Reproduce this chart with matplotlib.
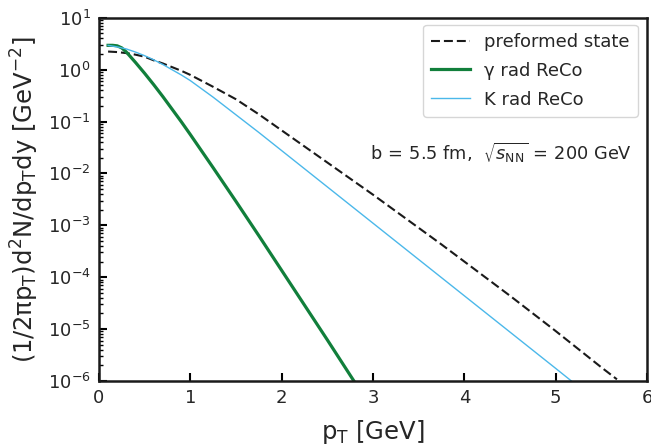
import matplotlib
matplotlib.use("Agg")
import matplotlib.pyplot as plt
import numpy as np
from matplotlib.ticker import LogLocator, NullFormatter

# preformed state (log10 values)
pre_pt = [0.1, 0.2, 0.3, 0.4, 0.5, 0.6, 0.7, 0.8, 0.9, 1.0, 1.25, 1.5, 1.75, 2.0, 2.25, 2.5,
          2.75, 3.0, 3.25, 3.5, 3.75, 4.0, 4.25, 4.5, 4.75, 5.0, 5.25, 5.5, 5.67]
pre_log = [0.35, 0.34, 0.32, 0.29, 0.25, 0.18, 0.12, 0.05, -0.02, -0.10, -0.33, -0.57, -0.86,
           -1.17, -1.48, -1.79, -2.10, -2.41, -2.73, -3.05, -3.37, -3.70, -4.03, -4.36, -4.70,
           -5.04, -5.39, -5.74, -5.97]

# gamma rad ReCo
gam_pt = [0.1, 0.15, 0.2, 0.25, 0.3, 0.4, 0.5, 0.6, 0.7, 0.8, 0.9, 1.0, 1.25, 1.5, 1.75,
          2.0, 2.25, 2.5, 2.79]
gam_log = [0.47, 0.47, 0.46, 0.42, 0.34, 0.14, -0.07, -0.29, -0.52, -0.76, -1.00, -1.25,
           -1.89, -2.54, -3.20, -3.87, -4.54, -5.21, -6.0]

# K rad ReCo
k_pt = [0.1, 0.2, 0.3, 0.4, 0.5, 0.6, 0.7, 0.8, 0.9, 1.0, 1.25, 1.5, 1.75, 2.0, 2.25, 2.5,
        2.75, 3.0, 3.25, 3.5, 3.75, 4.0, 4.25, 4.5, 4.75, 5.0, 5.17]
k_log = [0.47, 0.44, 0.40, 0.34, 0.27, 0.19, 0.10, 0.00, -0.10, -0.21, -0.53, -0.87, -1.21,
         -1.56, -1.91, -2.26, -2.61, -2.96, -3.31, -3.66, -4.01, -4.36, -4.71, -5.06, -5.41,
         -5.76, -6.0]

labels = ["preformed state", "\u03b3 rad ReCo", "K rad ReCo"]
xticks = [0, 1, 2, 3, 4, 5, 6]

plt.rcParams['font.family'] = ['DejaVu Sans']
plt.rcParams['mathtext.fontset'] = 'dejavusans'

fig = plt.figure(figsize=(6.51, 4.46), dpi=100)
ax = fig.add_axes([0.152, 0.146, 0.842, 0.814])

txtc = '#262626'
ax.plot(pre_pt, 10 ** np.array(pre_log), ls=(0, (4.3, 1.9)), color='#1a1a1a', lw=1.5, label=labels[0])
ax.plot(gam_pt, 10 ** np.array(gam_log), color='#117f3b', lw=2.3, label=labels[1])
ax.plot(k_pt, 10 ** np.array(k_log), color='#4bb8ea', lw=1.0, label=labels[2])

ax.set_yscale('log')
ax.set_xlim(0, 6)
ax.set_ylim(1e-6, 1e1)
ax.set_xticks(xticks)
ax.yaxis.set_major_locator(LogLocator(base=10, numticks=20))
ax.yaxis.set_minor_locator(LogLocator(base=10, subs=np.arange(2, 10), numticks=20))
ax.yaxis.set_minor_formatter(NullFormatter())

for s in ax.spines.values():
    s.set_linewidth(1.8)
    s.set_color('#1a1a1a')
ax.tick_params(which='major', direction='in', length=6, width=1.5, labelsize=13,
               labelcolor=txtc, top=False, right=False, pad=6)
ax.tick_params(which='minor', direction='in', length=3, width=1.0, top=False, right=False)

ax.set_xlabel(r"p$_\mathrm{T}$ [GeV]", fontsize=17.5, color=txtc, labelpad=8)
ax.set_ylabel("(1/2\u03c0p$_\\mathrm{T}$)d$^2$N/dp$_\\mathrm{T}$dy [GeV$^{-2}$]", fontsize=17.5,
              color=txtc, labelpad=5)

leg = ax.legend(loc='upper right', fontsize=13, frameon=True, fancybox=True,
                borderpad=0.45, handlelength=2.15, labelspacing=0.6,
                bbox_to_anchor=(0.9836, 0.9807), borderaxespad=0)
leg.get_frame().set_edgecolor('#cccccc')
for t in leg.get_texts():
    t.set_color(txtc)

ax.text(0.9726, 0.628, r"b$\,=\,$5.5 fm,  $\sqrt{s_\mathrm{NN}}$$\,=\,$200 GeV", transform=ax.transAxes,
        ha='right', va='center', fontsize=12.8, color=txtc)

fig.savefig('out.png', dpi=100)
